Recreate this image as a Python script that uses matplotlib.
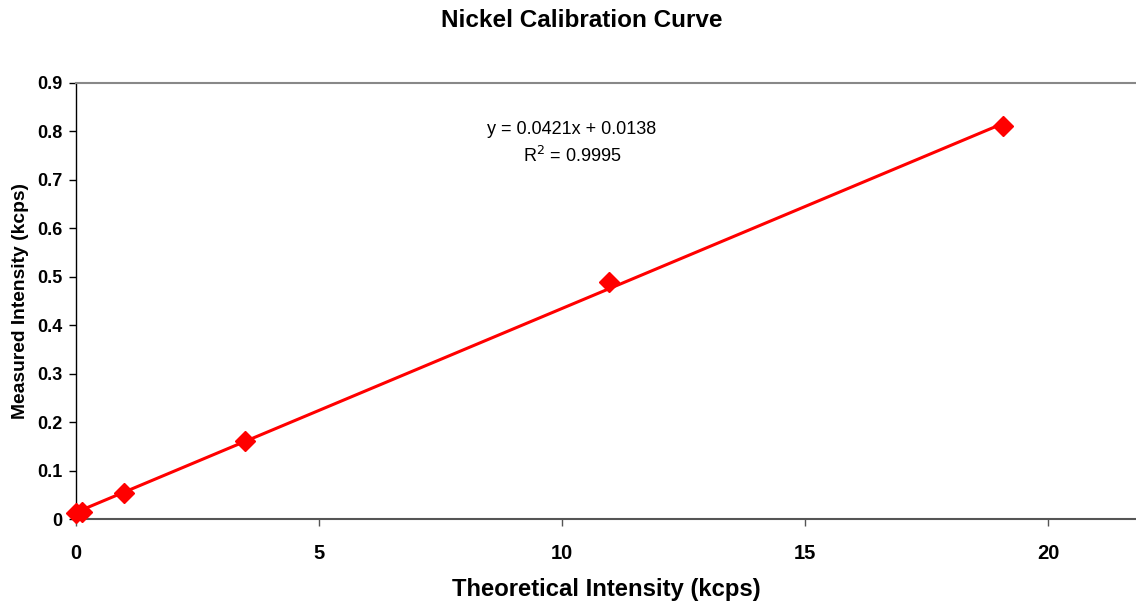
import matplotlib.pyplot as plt
import numpy as np

plt.rcParams['font.family'] = ['Liberation Sans', 'DejaVu Sans']

# calibration standards
theoretical = [0.0, 0.12, 0.99, 3.48, 10.97, 19.07]
measured = [0.012, 0.014, 0.054, 0.161, 0.489, 0.811]

# excel linear trendline
slope = 0.0421
intercept = 0.0138
r_squared = 0.9995

x_ticks = [0, 5, 10, 15, 20]
x_ticklabels = ['0', '5', '10', '15', '20']
y_ticks = [0, 0.1, 0.2, 0.3, 0.4, 0.5, 0.6, 0.7, 0.8, 0.9]
y_ticklabels = ['0', '0.1', '0.2', '0.3', '0.4', '0.5', '0.6', '0.7', '0.8', '0.9']

fig = plt.figure(figsize=(11.36, 6.04), dpi=100)
ax = fig.add_axes([0.0669, 0.1407, 0.9331, 0.7219])

xs = np.array([min(theoretical), max(theoretical)])
ax.plot(xs, slope * xs + intercept, color='#ff0000', lw=2.2, zorder=2, clip_on=False)
ax.plot(theoretical, measured, ls='none', marker='D', ms=10, color='#ff0000',
        zorder=3, clip_on=False)

ax.set_xlim(0, 21.8)
ax.set_ylim(0, 0.9)
ax.set_xticks(x_ticks)
ax.set_xticklabels(x_ticklabels, fontsize=14.5, fontweight='bold')
ax.set_yticks(y_ticks)
ax.set_yticklabels(y_ticklabels, fontsize=13, fontweight='bold')
ax.tick_params(axis='y', direction='out', length=5, width=1, pad=5)
ax.tick_params(axis='x', direction='out', length=5, width=1, pad=13, color='#555555')

ax.spines['right'].set_visible(False)
ax.spines['top'].set_color('#888888')
ax.spines['top'].set_linewidth(1.5)
ax.spines['bottom'].set_color('#555555')
ax.spines['bottom'].set_linewidth(1.5)
ax.spines['left'].set_color('black')
ax.spines['left'].set_linewidth(1)

ax.set_xlabel('Theoretical Intensity (kcps)', fontsize=17.2, fontweight='bold', labelpad=11)
ax.set_ylabel('Measured Intensity (kcps)', fontsize=13.9, fontweight='bold', labelpad=6)
fig.suptitle('Nickel Calibration Curve', fontsize=17.5, fontweight='bold', x=0.512, y=0.985)

ax.text(10.2, 0.805, 'y = %.4fx + %.4f' % (slope, intercept), ha='center', va='center', fontsize=13)
ax.text(10.2, 0.750, 'R$^2$ = %.4f' % r_squared, ha='center', va='center', fontsize=13)

fig.savefig('out.png', dpi=100)
